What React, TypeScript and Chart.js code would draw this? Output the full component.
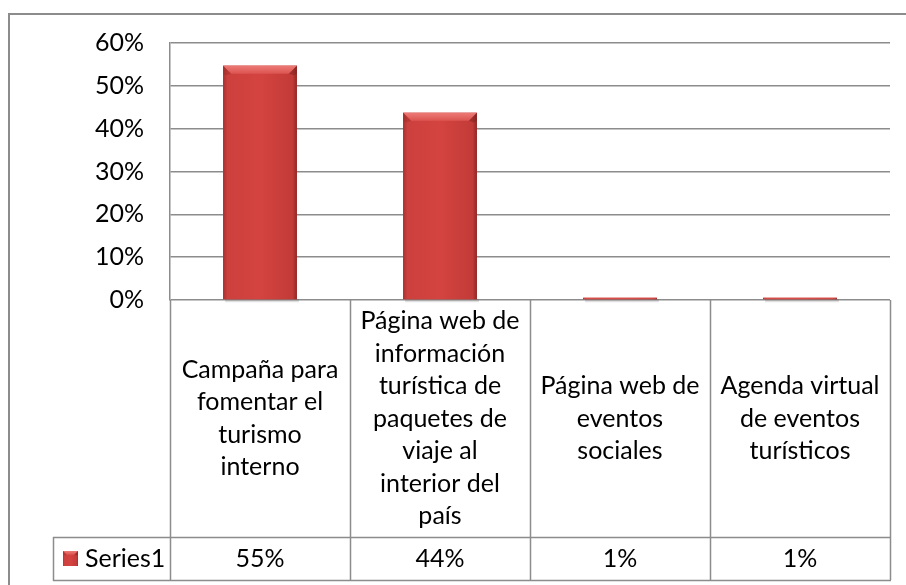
import React, { useEffect, useRef } from "react";
import { Chart, registerables } from "chart.js";

Chart.register(...registerables);

const categories: string[][] = [
  ["Campaña para", "fomentar el", "turismo", "interno"],
  ["Página web de", "información", "turística de", "paquetes de", "viaje al", "interior del", "país"],
  ["Página web de", "eventos", "sociales"],
  ["Agenda virtual", "de eventos", "turísticos"],
];
const seriesName = "Series1";
const seriesValues = [0.547, 0.437, 0.005, 0.005];
const tableLabels = ["55%", "44%", "1%", "1%"];
const yMin = 0;
const yMax = 0.6;
const yStep = 0.1;

const FONT = "Lato, 'Open Sans', sans-serif";
const FONT_SIZE = 25;
const LINE = "#8c8c8c";
const FACE = "#d0413e";

const drawBevelBox = (ctx: CanvasRenderingContext2D, l: number, t: number, r: number, b: number, bev: number) => {
  const h = b - t;
  if (h <= 0) return;
  const bv = Math.min(bev, h / 2, (r - l) / 4);
  ctx.save();
  const g = ctx.createLinearGradient(l, 0, r, 0);
  g.addColorStop(0, "#a83230");
  g.addColorStop(0.06, "#cc403d");
  g.addColorStop(0.5, "#d4433f");
  g.addColorStop(0.94, "#c23b38");
  g.addColorStop(1, "#8e2826");
  ctx.fillStyle = g;
  ctx.fillRect(l, t, r - l, h);
  ctx.beginPath();
  ctx.moveTo(l, t);
  ctx.lineTo(r, t);
  ctx.lineTo(r - bv, t + bv);
  ctx.lineTo(l + bv, t + bv);
  ctx.closePath();
  const tg = ctx.createLinearGradient(0, t, 0, t + bv);
  tg.addColorStop(0, "#ec7a76");
  tg.addColorStop(1, "#dc5450");
  ctx.fillStyle = tg;
  ctx.fill();
  ctx.beginPath();
  ctx.moveTo(l, t);
  ctx.lineTo(l + bv, t + bv);
  ctx.lineTo(l + bv * 0.4, t + bv * 1.2);
  ctx.lineTo(l, t + bv);
  ctx.closePath();
  ctx.fillStyle = "rgba(150,40,38,0.35)";
  ctx.fill();
  ctx.beginPath();
  ctx.moveTo(r, t);
  ctx.lineTo(r - bv, t + bv);
  ctx.lineTo(r - bv * 0.4, t + bv * 1.2);
  ctx.lineTo(r, t + bv);
  ctx.closePath();
  ctx.fillStyle = "rgba(120,30,28,0.45)";
  ctx.fill();
  ctx.restore();
};

const barPlugin = {
  id: "bevelBars",
  afterDatasetsDraw(chart: any) {
    const ctx: CanvasRenderingContext2D = chart.ctx;
    const meta = chart.getDatasetMeta(0);
    ctx.save();
    meta.data.forEach((el: any) => {
      const { x, y, base, width } = el.getProps(["x", "y", "base", "width"], true);
      const l = x - width / 2;
      const r = x + width / 2;
      ctx.fillStyle = "rgba(0,0,0,0.12)";
      ctx.fillRect(l + 2, base, r - l, 3);
      drawBevelBox(ctx, l, y, r, base, 8);
    });
    ctx.restore();
  },
};

const framePlugin = {
  id: "frameAndTable",
  beforeDraw(chart: any) {
    const ctx: CanvasRenderingContext2D = chart.ctx;
    ctx.save();
    ctx.fillStyle = "#ffffff";
    ctx.fillRect(0, 0, chart.width, chart.height);
    ctx.strokeStyle = LINE;
    ctx.lineWidth = 2;
    ctx.beginPath();
    ctx.moveTo(1, chart.height);
    ctx.lineTo(1, 1);
    ctx.lineTo(chart.width, 1);
    ctx.stroke();
    ctx.restore();
  },
  afterDraw(chart: any) {
    const ctx: CanvasRenderingContext2D = chart.ctx;
    const area = chart.chartArea;
    const xs = chart.scales.x;
    const n = categories.length;
    const colW = (area.right - area.left) / n;
    const top = area.bottom;
    const split = top + 237;
    const bottom = split + 43;
    const legendLeft = 45;
    ctx.save();
    ctx.strokeStyle = LINE;
    ctx.lineWidth = 1.5;
    ctx.beginPath();
    for (let i = 0; i <= n; i++) {
      const bx = Math.round(xs.getPixelForValue(i) - colW / 2) + 0.5;
      const xx = i === n ? Math.round(area.right) + 0.5 : bx;
      ctx.moveTo(xx, top);
      ctx.lineTo(xx, bottom);
    }
    ctx.moveTo(legendLeft, split + 0.5);
    ctx.lineTo(area.right + 1, split + 0.5);
    ctx.moveTo(legendLeft, bottom + 0.5);
    ctx.lineTo(area.right + 1, bottom + 0.5);
    ctx.moveTo(legendLeft + 0.5, split);
    ctx.lineTo(legendLeft + 0.5, bottom + 1);
    ctx.stroke();

    ctx.fillStyle = "#000";
    ctx.font = `${FONT_SIZE}px ${FONT}`;
    ctx.textAlign = "center";
    ctx.textBaseline = "middle";
    const lh = 32.5;
    categories.forEach((lines, i) => {
      const cx = xs.getPixelForValue(i);
      const cy = (top + split) / 2;
      const start = cy - ((lines.length - 1) * lh) / 2;
      lines.forEach((ln, j) => ctx.fillText(ln, cx, start + j * lh));
      ctx.fillText(tableLabels[i], cx, (split + bottom) / 2);
    });
    const my = (split + bottom) / 2;
    drawBevelBox(ctx, legendLeft + 10, my - 7.5, legendLeft + 25, my + 7.5, 4);
    ctx.textAlign = "left";
    ctx.fillStyle = "#000";
    ctx.fillText(seriesName, legendLeft + 32, my);
    ctx.restore();
  },
};

export default function App() {
  const ref = useRef<HTMLCanvasElement | null>(null);
  useEffect(() => {
    if (!ref.current) return;
    const chart = new Chart(ref.current, {
      type: "bar",
      data: {
        labels: categories,
        datasets: [
          {
            label: seriesName,
            data: seriesValues,
            backgroundColor: FACE,
            borderWidth: 0,
            barPercentage: 0.41,
            categoryPercentage: 1,
          },
        ],
      },
      options: {
        animation: false,
        responsive: false,
        devicePixelRatio: 1,
        layout: { padding: { left: 0, top: 30, right: 18, bottom: 293 } },
        plugins: { legend: { display: false }, tooltip: { enabled: false } },
        scales: {
          x: { display: false },
          y: {
            min: yMin,
            max: yMax,
            ticks: {
              stepSize: yStep,
              padding: 0,
              color: "#000",
              font: { family: FONT, size: FONT_SIZE },
              callback: (v: any) => `${Math.round(Number(v) * 100)}%`,
            },
            grid: {
              color: LINE,
              lineWidth: 1.5,
              drawTicks: true,
              tickLength: 26,
              tickColor: "rgba(0,0,0,0)",
            },
            border: { display: true, color: LINE, width: 1.5 },
            afterFit: (s: any) => {
              s.width = 162;
            },
          },
        },
      },
      plugins: [framePlugin, barPlugin],
    });
    return () => chart.destroy();
  }, []);
  return (
    <div style={{ position: "absolute", left: 8, top: 13, width: 898, height: 572, overflow: "hidden" }}>
      <canvas ref={ref} width={900} height={580} style={{ display: "block" }} />
    </div>
  );
}
